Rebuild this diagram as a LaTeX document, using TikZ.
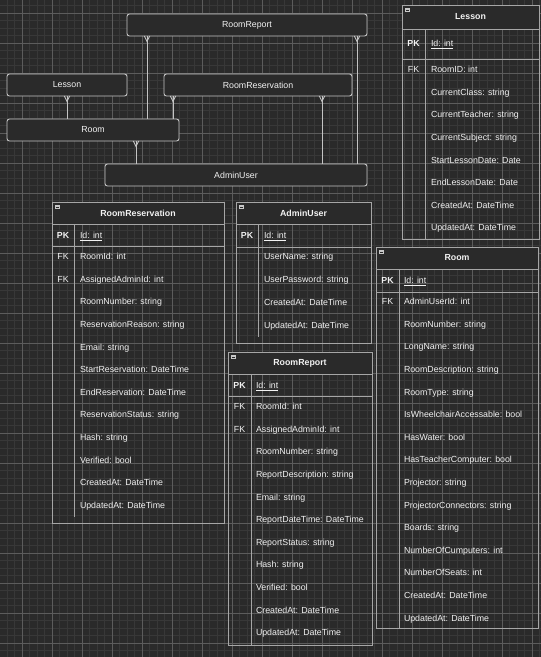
\documentclass[tikz,border=0pt]{standalone}
\usepackage{fontspec}
\setmainfont{Liberation Sans}
\usetikzlibrary{calc}
\definecolor{bgc}{HTML}{2A2A2A}
\definecolor{minorc}{HTML}{383838}
\definecolor{majorc}{HTML}{5C5C5C}
\definecolor{boxfill}{HTML}{2A2A2A}
\definecolor{boxline}{HTML}{C4C4C4}
\definecolor{tblline}{HTML}{A6A6A6}
\definecolor{txtc}{HTML}{F2F2F2}
\definecolor{iconc}{HTML}{C8C8C8}
\begin{document}
\begin{tikzpicture}[x=1pt,y=-1pt,
  every node/.style={font=\fontsize{8.8}{10}\selectfont, text=txtc, inner sep=0pt, outer sep=0pt},
  minorl/.style={draw=minorc, line width=0.8pt},
  majorl/.style={draw=majorc, line width=0.8pt},
  topbox/.style={draw=boxline, fill=boxfill, line width=0.9pt, rounded corners=2.5pt, anchor=north west},
  conn/.style={draw=boxline, line width=0.9pt},
  tbody/.style={draw=tblline, line width=0.9pt, anchor=north west},
  thead/.style={draw=tblline, fill=boxfill, line width=0.9pt, anchor=north west, font=\fontsize{8.8}{10}\selectfont\bfseries},
  tline/.style={draw=tblline, line width=0.9pt},
  field/.style={anchor=mid west},
  keyl/.style={anchor=mid, font=\fontsize{8.8}{10}\selectfont\bfseries},
  fkl/.style={anchor=mid},
  icon/.style={fill=iconc, minimum width=5pt, minimum height=4pt, anchor=north west},
  many/.pic={\draw[conn] (-2.7,0) -- (0,5.5) -- (2.7,0);}
]
\useasboundingbox (0,0) rectangle (541,657);
\fill[bgc] (0,0) rectangle (541,657);
% grid
\foreach \i in {-1,...,72} \draw[minorl] ({7+7.5*\i},0) -- ({7+7.5*\i},657);
\foreach \i in {-1,...,88} \draw[minorl] (0,{5.5+7.5*\i}) -- (541,{5.5+7.5*\i});
\foreach \i in {-1,...,17} \draw[majorl] ({22+30*\i},0) -- ({22+30*\i},657);
\foreach \i in {0,...,21} \draw[majorl] (0,{13+30*\i}) -- (541,{13+30*\i});

% ---------- overview boxes ----------
\node[topbox, minimum width=240pt, minimum height=22pt] (bReport) at (127,14) {};
\node at (bReport.center) (tReport) {RoomReport};
\node[topbox, minimum width=120pt, minimum height=22pt] (bLesson) at (7,74) {};
\node at (bLesson.center) (tLesson) {Lesson};
\node[topbox, minimum width=188pt, minimum height=22pt] (bResv) at (164,74) {};
\node at (bResv.center) (tResv) {RoomReservation};
\node[topbox, minimum width=172pt, minimum height=22pt] (bRoom) at (7,119) {};
\node at (bRoom.center) (tRoom) {Room};
\node[topbox, minimum width=262pt, minimum height=22pt] (bAdmin) at (105,164) {};
\node at (bAdmin.center) (tAdmin) {AdminUser};

\coordinate (x1) at (67,0);
\coordinate (x2) at (173,0);
\coordinate (x3) at (147,0);
\coordinate (x4) at (136,0);
\coordinate (x5) at (322,0);
\coordinate (x6) at (357,0);
\draw[conn] (bLesson.south -| x1) -- (bRoom.north -| x1);
\pic at (bLesson.south -| x1) {many};
\draw[conn] (bResv.south -| x2) -- (bRoom.north -| x2);
\pic at (bResv.south -| x2) {many};
\draw[conn] (bReport.south -| x3) -- (bRoom.north -| x3);
\pic at (bReport.south -| x3) {many};
\draw[conn] (bRoom.south -| x4) -- (bAdmin.north -| x4);
\pic at (bRoom.south -| x4) {many};
\draw[conn] (bResv.south -| x5) -- (bAdmin.north -| x5);
\pic at (bResv.south -| x5) {many};
\draw[conn] (bReport.south -| x6) -- (bAdmin.north -| x6);
\pic at (bReport.south -| x6) {many};

% ---------- Lesson table ----------
\node[tbody, minimum width=137pt, minimum height=234pt] (LsT) at (402,5) {};
\node[thead, minimum width=137pt, minimum height=24pt] (LsH) at (402,5) {Lesson};
\node[icon] (LsI) at (405,8) {};
\draw[bgc, line width=0.8pt] ($(LsI.west)+(1,0)$) -- ($(LsI.east)+(-1,0)$);
\draw[tline] (402,59) -- (539,59);
\draw[tline] (425,29) -- (425,239);
\node[keyl] (LsPK) at (413.5,44) {PK};
\node[field] (LsId) at (431,44) {\underline{Id: int}};
\node[fkl] (LsFK1) at (413.5,70) {FK};
\foreach \t [count=\i from 0] in {RoomID: int,CurrentClass: string,CurrentTeacher: string,CurrentSubject: string,StartLessonDate: Date,EndLessonDate: Date,CreatedAt: DateTime,UpdatedAt: DateTime}
  \node[field] (Ls-\i) at (431,{70+22.6*\i}) {\t};

% ---------- RoomReservation table ----------
\node[tbody, minimum width=172pt, minimum height=321pt] (RvT) at (52,202) {};
\node[thead, minimum width=172pt, minimum height=22pt] (RvH) at (52,202) {RoomReservation};
\node[icon] (RvI) at (55,205) {};
\draw[bgc, line width=0.8pt] ($(RvI.west)+(1,0)$) -- ($(RvI.east)+(-1,0)$);
\draw[tline] (52,246) -- (224,246);
\draw[tline] (74,224) -- (74,517);
\node[keyl] (RvPK) at (63,236) {PK};
\node[field] (RvId) at (80,236) {\underline{Id: int}};
\node[fkl] (RvFK1) at (63,257) {FK};
\node[fkl] (RvFK2) at (63,280) {FK};
\foreach \t [count=\i from 0] in {RoomId: int,AssignedAdminId: int,RoomNumber: string,ReservationReason: string,Email: string,StartReservation: DateTime,EndReservation: DateTime,ReservationStatus: string,Hash: string,Verified: bool,CreatedAt: DateTime,UpdatedAt: DateTime}
  \node[field] (Rv-\i) at (80,{257+22.6*\i}) {\t};

% ---------- AdminUser table ----------
\node[tbody, minimum width=135pt, minimum height=141pt] (AuT) at (236,202) {};
\node[thead, minimum width=135pt, minimum height=22pt] (AuH) at (236,202) {AdminUser};
\node[icon] (AuI) at (239,205) {};
\draw[bgc, line width=0.8pt] ($(AuI.west)+(1,0)$) -- ($(AuI.east)+(-1,0)$);
\draw[tline] (236,247) -- (371,247);
\draw[tline] (258,224) -- (258,337);
\node[keyl] (AuPK) at (247,236) {PK};
\node[field] (AuId) at (264,236) {\underline{Id: int}};
\foreach \t [count=\i from 0] in {UserName: string,UserPassword: string,CreatedAt: DateTime,UpdatedAt: DateTime}
  \node[field] (Au-\i) at (264,{257+23*\i}) {\t};

% ---------- RoomReport table ----------
\node[tbody, minimum width=144pt, minimum height=293pt] (RpT) at (228,352) {};
\node[thead, minimum width=144pt, minimum height=22pt] (RpH) at (228,352) {RoomReport};
\node[icon] (RpI) at (231,355) {};
\draw[bgc, line width=0.8pt] ($(RpI.west)+(1,0)$) -- ($(RpI.east)+(-1,0)$);
\draw[tline] (228,396) -- (372,396);
\draw[tline] (251,374) -- (251,645);
\node[keyl] (RpPK) at (239.5,386) {PK};
\node[field] (RpId) at (256,386) {\underline{Id: int}};
\node[fkl] (RpFK1) at (239.5,407) {FK};
\node[fkl] (RpFK2) at (239.5,430) {FK};
\foreach \t [count=\i from 0] in {RoomId: int,AssignedAdminId: int,RoomNumber: string,ReportDescription: string,Email: string,ReportDateTime: DateTime,ReportStatus: string,Hash: string,Verified: bool,CreatedAt: DateTime,UpdatedAt: DateTime}
  \node[field] (Rp-\i) at (256,{407+22.6*\i}) {\t};

% ---------- Room table ----------
\node[tbody, minimum width=162pt, minimum height=381pt] (RmT) at (376,247) {};
\node[thead, minimum width=162pt, minimum height=22pt] (RmH) at (376,247) {Room};
\node[icon] (RmI) at (379,250) {};
\draw[bgc, line width=0.8pt] ($(RmI.west)+(1,0)$) -- ($(RmI.east)+(-1,0)$);
\draw[tline] (376,292) -- (538,292);
\draw[tline] (399,269) -- (399,628);
\node[keyl] (RmPK) at (387.5,281) {PK};
\node[field] (RmId) at (404,281) {\underline{Id: int}};
\node[fkl] (RmFK1) at (387.5,302) {FK};
\foreach \t [count=\i from 0] in {AdminUserId: int,RoomNumber: string,LongName: string,RoomDescription: string,RoomType: string,IsWheelchairAccessable: bool,HasWater: bool,HasTeacherComputer: bool,Projector: string,ProjectorConnectors: string,Boards: string,NumberOfCumputers: int,NumberOfSeats: int,CreatedAt: DateTime,UpdatedAt: DateTime}
  \node[field] (Rm-\i) at (404,{302+22.6*\i}) {\t};
\end{tikzpicture}
\end{document}
